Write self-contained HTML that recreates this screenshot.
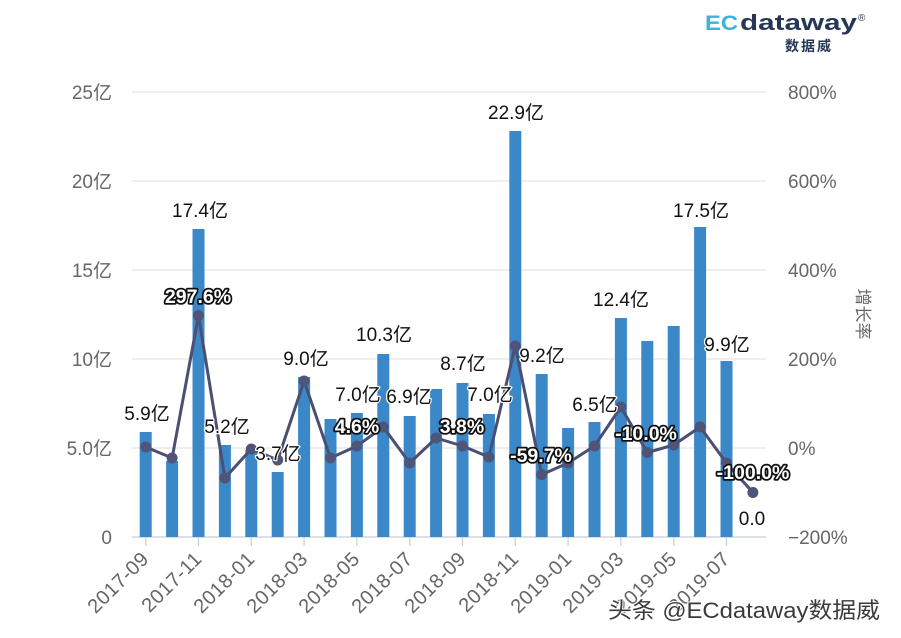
<!DOCTYPE html>
<html><head><meta charset="utf-8"><style>
html,body{margin:0;padding:0;background:#fff;}
svg{display:block;}
.ax{font-family:"Liberation Sans","Noto Sans CJK SC",sans-serif;font-size:19px;fill:#666;}
.bl{font-family:"Liberation Sans","Noto Sans CJK SC",sans-serif;font-size:19px;fill:#111;stroke:#fff;stroke-width:2.5px;paint-order:stroke;stroke-linejoin:round;text-anchor:middle;}
.pl{font-family:"Liberation Sans","Noto Sans CJK SC",sans-serif;font-size:19.5px;font-weight:bold;fill:#fff;stroke:#111;stroke-width:3.5px;paint-order:stroke;stroke-linejoin:round;text-anchor:middle;}
.xl{font-family:"Liberation Sans","Noto Sans CJK SC",sans-serif;font-size:20px;fill:#666;text-anchor:end;letter-spacing:0.5px;}
</style></head><body>
<svg width="901" height="638" viewBox="0 0 901 638" xmlns="http://www.w3.org/2000/svg">
<!-- logo -->
<text x="705" y="30" font-family="Liberation Sans, sans-serif" font-weight="bold" font-size="21" fill="#3fb1de" textLength="33" lengthAdjust="spacingAndGlyphs">EC</text>
<text x="740" y="30" font-family="Liberation Sans, sans-serif" font-weight="bold" font-size="22" fill="#263756" textLength="117" lengthAdjust="spacingAndGlyphs">dataway</text>
<text x="858" y="21" font-family="Liberation Sans, sans-serif" font-size="10" fill="#263756">®</text>
<text x="785" y="51" font-family="Liberation Sans, Noto Sans CJK SC, sans-serif" font-weight="bold" font-size="14" fill="#263756" letter-spacing="2">数据威</text>

<!-- gridlines -->
<g stroke="#e3e3e3" stroke-width="1.2">
<line x1="132" y1="92" x2="766" y2="92"/>
<line x1="132" y1="181" x2="766" y2="181"/>
<line x1="132" y1="270" x2="766" y2="270"/>
<line x1="132" y1="359" x2="766" y2="359"/>
<line x1="132" y1="448" x2="766" y2="448"/>
</g>
<line x1="132" y1="537" x2="766" y2="537" stroke="#c8ccd8" stroke-width="1.2"/>

<!-- left axis labels -->
<g class="ax" text-anchor="end">
<text x="112" y="99">25亿</text>
<text x="112" y="188">20亿</text>
<text x="112" y="277">15亿</text>
<text x="112" y="366">10亿</text>
<text x="112" y="455">5.0亿</text>
<text x="112" y="544">0</text>
</g>
<!-- right axis labels -->
<g class="ax" text-anchor="start">
<text x="788" y="99">800%</text>
<text x="788" y="188">600%</text>
<text x="788" y="277">400%</text>
<text x="788" y="366">200%</text>
<text x="788" y="455">0%</text>
<text x="788" y="544">−200%</text>
</g>
<text transform="translate(857,314) rotate(90)" text-anchor="middle" font-family="Liberation Sans, Noto Sans CJK SC, sans-serif" font-size="17" fill="#666">增长率</text>

<!-- x ticks -->
<g stroke="#c8ccd8" stroke-width="1.2">
<line x1="145.7" y1="537" x2="145.7" y2="546"/>
<line x1="198.5" y1="537" x2="198.5" y2="546"/>
<line x1="251.3" y1="537" x2="251.3" y2="546"/>
<line x1="304.1" y1="537" x2="304.1" y2="546"/>
<line x1="356.9" y1="537" x2="356.9" y2="546"/>
<line x1="409.7" y1="537" x2="409.7" y2="546"/>
<line x1="462.5" y1="537" x2="462.5" y2="546"/>
<line x1="515.3" y1="537" x2="515.3" y2="546"/>
<line x1="568.1" y1="537" x2="568.1" y2="546"/>
<line x1="620.9" y1="537" x2="620.9" y2="546"/>
<line x1="673.7" y1="537" x2="673.7" y2="546"/>
<line x1="726.5" y1="537" x2="726.5" y2="546"/>
</g>
<!-- x labels -->
<g class="xl">
<text transform="translate(150,560) rotate(-45)">2017-09</text>
<text transform="translate(203,560) rotate(-45)">2017-11</text>
<text transform="translate(256,560) rotate(-45)">2018-01</text>
<text transform="translate(309,560) rotate(-45)">2018-03</text>
<text transform="translate(361,560) rotate(-45)">2018-05</text>
<text transform="translate(414,560) rotate(-45)">2018-07</text>
<text transform="translate(467,560) rotate(-45)">2018-09</text>
<text transform="translate(520,560) rotate(-45)">2018-11</text>
<text transform="translate(573,560) rotate(-45)">2019-01</text>
<text transform="translate(625,560) rotate(-45)">2019-03</text>
<text transform="translate(678,560) rotate(-45)">2019-05</text>
<text transform="translate(731,560) rotate(-45)">2019-07</text>
</g>

<!-- bars -->
<g fill="#3a88c8">
<rect x="139.7" y="432" width="12" height="105"/>
<rect x="166.1" y="461" width="12" height="76"/>
<rect x="192.5" y="229" width="12" height="308"/>
<rect x="218.9" y="445" width="12" height="92"/>
<rect x="245.3" y="450" width="12" height="87"/>
<rect x="271.7" y="472" width="12" height="65"/>
<rect x="298.1" y="377" width="12" height="160"/>
<rect x="324.5" y="419" width="12" height="118"/>
<rect x="350.9" y="413" width="12" height="124"/>
<rect x="377.3" y="354" width="12" height="183"/>
<rect x="403.7" y="416" width="12" height="121"/>
<rect x="430.1" y="389" width="12" height="148"/>
<rect x="456.5" y="383" width="12" height="154"/>
<rect x="482.9" y="414" width="12" height="123"/>
<rect x="509.3" y="131" width="12" height="406"/>
<rect x="535.7" y="374" width="12" height="163"/>
<rect x="562.1" y="428" width="12" height="109"/>
<rect x="588.5" y="422" width="12" height="115"/>
<rect x="614.9" y="318" width="12" height="219"/>
<rect x="641.3" y="341" width="12" height="196"/>
<rect x="667.7" y="326" width="12" height="211"/>
<rect x="694.1" y="227" width="12" height="310"/>
<rect x="720.5" y="361" width="12" height="176"/>
</g>

<!-- line -->
<polyline fill="none" stroke="#4b4f73" stroke-width="3" stroke-linejoin="round"
points="145.7,447 172.1,458 198.5,315.6 224.9,478 251.3,449 277.7,460 304.1,381 330.5,458 356.9,446 383.3,427 409.7,463 436.1,438 462.5,446 488.9,457 515.3,346 541.7,474.6 568.1,463 594.5,446 620.9,407 647.3,452.5 673.7,445 700.1,427 726.5,463 752.9,492.5"/>
<g fill="#4f5478">
<circle cx="145.7" cy="447" r="5.5"/>
<circle cx="172.1" cy="458" r="5.5"/>
<circle cx="198.5" cy="315.6" r="5.5"/>
<circle cx="224.9" cy="478" r="5.5"/>
<circle cx="251.3" cy="449" r="5.5"/>
<circle cx="277.7" cy="460" r="5.5"/>
<circle cx="304.1" cy="381" r="5.5"/>
<circle cx="330.5" cy="458" r="5.5"/>
<circle cx="356.9" cy="446" r="5.5"/>
<circle cx="383.3" cy="427" r="5.5"/>
<circle cx="409.7" cy="463" r="5.5"/>
<circle cx="436.1" cy="438" r="5.5"/>
<circle cx="462.5" cy="446" r="5.5"/>
<circle cx="488.9" cy="457" r="5.5"/>
<circle cx="515.3" cy="346" r="5.5"/>
<circle cx="541.7" cy="474.6" r="5.5"/>
<circle cx="568.1" cy="463" r="5.5"/>
<circle cx="594.5" cy="446" r="5.5"/>
<circle cx="620.9" cy="407" r="5.5"/>
<circle cx="647.3" cy="452.5" r="5.5"/>
<circle cx="673.7" cy="445" r="5.5"/>
<circle cx="700.1" cy="427" r="5.5"/>
<circle cx="726.5" cy="463" r="5.5"/>
<circle cx="752.9" cy="492.5" r="5.5"/>
</g>

<!-- bar value labels -->
<g class="bl">
<text x="147" y="420">5.9亿</text>
<text x="200" y="217">17.4亿</text>
<text x="227" y="433">5.2亿</text>
<text x="278" y="460">3.7亿</text>
<text x="306" y="365">9.0亿</text>
<text x="358" y="401">7.0亿</text>
<text x="384" y="341">10.3亿</text>
<text x="409" y="403">6.9亿</text>
<text x="463" y="370">8.7亿</text>
<text x="490" y="401">7.0亿</text>
<text x="516" y="119">22.9亿</text>
<text x="542" y="362">9.2亿</text>
<text x="595" y="411">6.5亿</text>
<text x="621" y="306">12.4亿</text>
<text x="701" y="217">17.5亿</text>
<text x="727" y="351">9.9亿</text>
<text x="752" y="525">0.0</text>
</g>

<!-- percentage labels -->
<g class="pl">
<text x="198" y="303">297.6%</text>
<text x="357" y="433">4.6%</text>
<text x="462" y="433">3.8%</text>
<text x="541" y="462">-59.7%</text>
<text x="646" y="440">-10.0%</text>
<text x="753" y="479">-100.0%</text>
</g>

<!-- watermark -->
<text x="608" y="618" font-family="Liberation Sans, Noto Sans CJK SC, sans-serif" font-size="22" fill="#3a3a3a" stroke="#fff" stroke-width="2" paint-order="stroke" textLength="272" lengthAdjust="spacingAndGlyphs">头条 @ECdataway数据威</text>
</svg>
</body></html>
